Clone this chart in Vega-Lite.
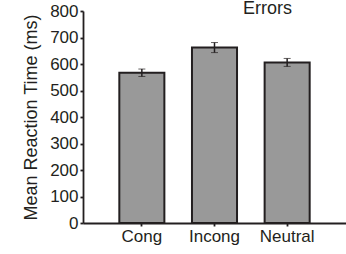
{
  "$schema": "https://vega.github.io/schema/vega-lite/v6.json",
  "autosize": {"type": "fit", "contains": "padding"},
  "padding": {"left": 22, "top": 0, "right": 0, "bottom": 10},
  "width": 346,
  "height": 254,
  "background": "white",
  "title": {"text": "Errors", "anchor": "middle", "dx": 53, "offset": -16, "fontSize": 18, "fontWeight": "normal", "font": "Liberation Sans", "color": "#231f20"},
  "data": {"values": [
    {"cond": "Cong", "rt": 567, "err": 14},
    {"cond": "Incong", "rt": 662, "err": 19},
    {"cond": "Neutral", "rt": 606, "err": 15}
  ]},
  "config": {
    "view": {"stroke": null},
    "axis": {"labelFont": "Liberation Sans", "titleFont": "Liberation Sans", "labelFontSize": 17, "titleFontSize": 18, "titleFontWeight": "normal", "labelColor": "#231f20", "titleColor": "#231f20", "domainColor": "#231f20", "tickColor": "#231f20", "domainWidth": 1.8, "tickWidth": 1.8, "grid": false}
  },
  "encoding": {
    "x": {"field": "cond", "type": "nominal", "sort": null,
      "scale": {"paddingInner": 0.38, "paddingOuter": 0.5},
      "axis": {"title": null, "labelAngle": 0, "tickSize": 3, "labelPadding": 2}},
    "y": {"field": "rt", "type": "quantitative",
      "scale": {"domain": [0, 800], "nice": false},
      "axis": {"title": "Mean Reaction Time (ms)", "values": [0,100,200,300,400,500,600,700,800], "tickSize": 3, "labelPadding": 2, "titlePadding": 9}}
  },
  "layer": [
    {"mark": {"type": "bar", "fill": "#999999", "stroke": "#231f20", "strokeWidth": 2}},
    {"mark": {"type": "errorbar", "ticks": {"size": 7, "strokeWidth": 2, "color": "#231f20"}, "rule": {"strokeWidth": 1.5, "color": "#231f20"}},
     "encoding": {"yError": {"field": "err"}}}
  ]
}
